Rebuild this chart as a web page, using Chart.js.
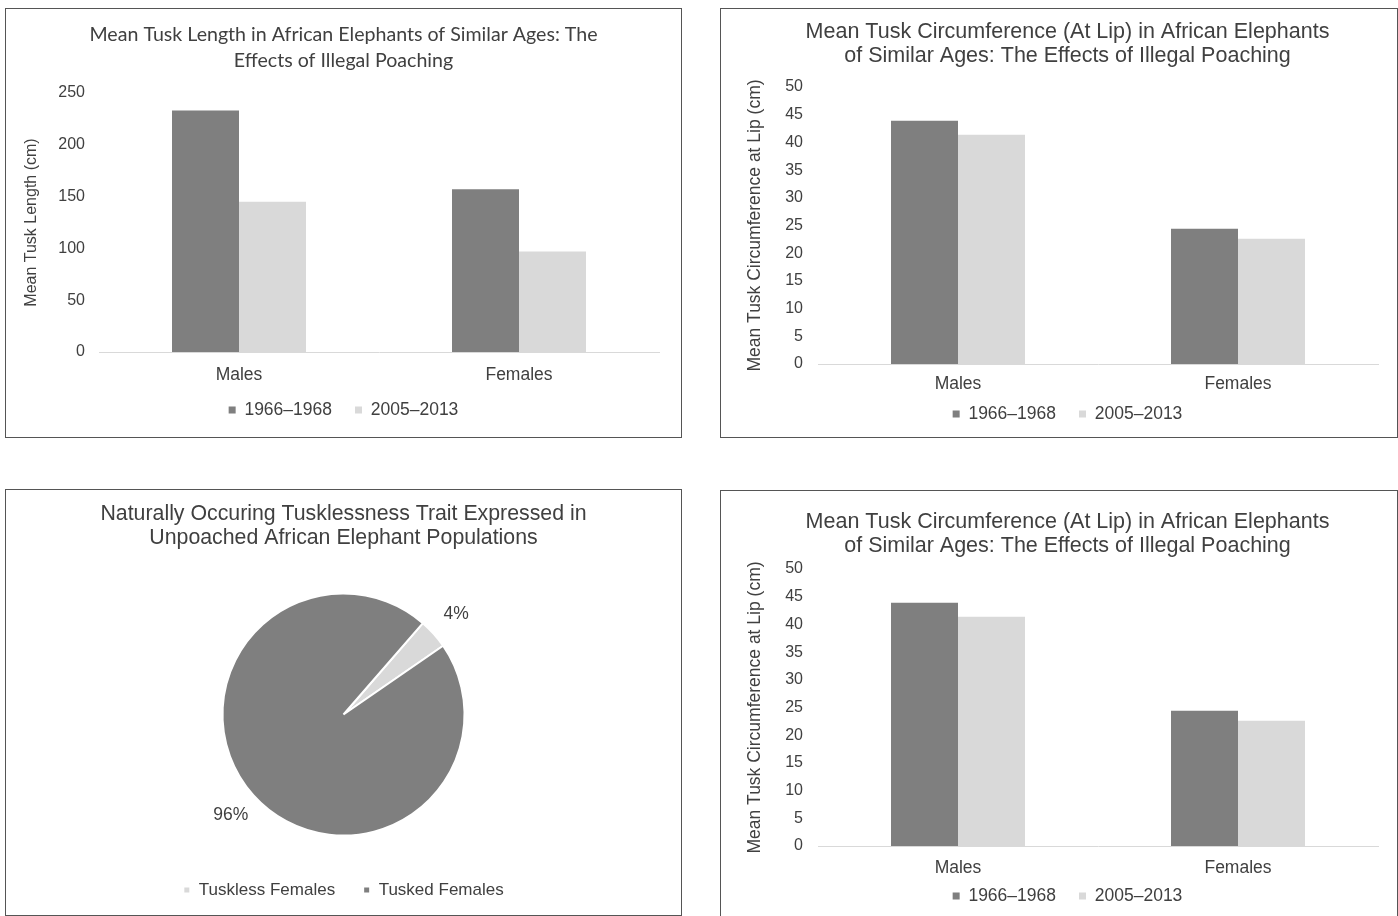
<!DOCTYPE html>
<html>
<head>
<meta charset="utf-8">
<title>African elephant tusk charts</title>
<script src="https://cdn.jsdelivr.net/npm/chart.js@4.4.1/dist/chart.umd.min.js"></script>
<style>
  html, body { margin: 0; padding: 0; background: #ffffff; overflow: hidden; width: 1398px; height: 916px; }
  .panel { position: absolute; border: 1px solid #555555; background: #ffffff; overflow: hidden; }
  .panel canvas { display: block; }
</style>
</head>
<body>
<div class="panel" style="left:5px; top:8px; width:675px; height:428px;">
  <canvas id="lengthChart" width="675" height="428" style="width:675px; height:428px;"></canvas>
</div>
<div class="panel" style="left:720px; top:8px; width:676px; height:428px;">
  <canvas id="circChartTop" width="676" height="428" style="width:676px; height:428px;"></canvas>
</div>
<div class="panel" style="left:5px; top:489px; width:675px; height:425px;">
  <canvas id="tuskPie" width="675" height="425" style="width:675px; height:425px;"></canvas>
</div>
<div class="panel" style="left:720px; top:490px; width:676px; height:428px;">
  <canvas id="circChartBottom" width="676" height="428" style="width:676px; height:428px;"></canvas>
</div>
<script>
// ---- data ----
const categories = ['Males', 'Females'];
const periods = ['1966–1968', '2005–2013'];

// mean tusk length (cm), per category
const lengthEarly = [233, 157];
const lengthLate = [145, 97];
const lengthTicks = [0, 50, 100, 150, 200, 250];

// mean tusk circumference at lip (cm), per category
const circEarly = [43.9, 24.4];
const circLate = [41.4, 22.6];
const circTicks = [0, 5, 10, 15, 20, 25, 30, 35, 40, 45, 50];

// tusklessness in unpoached populations (%)
const pieLabels = ['Tuskless Females', 'Tusked Females'];
const piePercents = [4, 96];

// ---- styling ----
const DARK = '#7f7f7f';
const LIGHT = '#d9d9d9';
const TEXT = '#404040';
const SANS = "'Liberation Sans', Arial, sans-serif";

Chart.defaults.font.family = SANS;
Chart.defaults.color = TEXT;

// invisible right-hand box that keeps the plot narrower than the centred title
function spacerAxis(width) {
  return {
    type: 'linear', axis: 'y', position: 'right',
    grid: { display: false, drawTicks: false },
    border: { display: false },
    ticks: { display: false },
    afterFit: s => { s.width = width; }
  };
}

// category names written under each group, positioned by the x scale
function categoryLabels(offset) {
  return {
    id: 'categoryLabels',
    afterDraw(chart) {
      const xs = chart.scales.x;
      const ctx = chart.ctx;
      ctx.save();
      ctx.font = '17.5px ' + SANS;
      ctx.fillStyle = TEXT;
      ctx.textAlign = 'center';
      ctx.textBaseline = 'middle';
      chart.data.labels.forEach((name, i) => {
        ctx.fillText(name, xs.getPixelForTick(i), chart.chartArea.bottom + offset);
      });
      ctx.restore();
    }
  };
}

function barChart(id, cfg) {
  const t = cfg.ticks;
  return new Chart(document.getElementById(id), {
    type: 'bar',
    data: {
      labels: categories,
      datasets: [
        { label: periods[0], data: cfg.early, backgroundColor: DARK,
          categoryPercentage: 134 / 280, barPercentage: 1 },
        { label: periods[1], data: cfg.late, backgroundColor: LIGHT,
          categoryPercentage: 134 / 280, barPercentage: 1 }
      ]
    },
    options: {
      responsive: false,
      animation: false,
      events: [],
      layout: { padding: { left: cfg.padLeft, right: 0, top: 0, bottom: cfg.padBottom } },
      plugins: {
        title: {
          display: true, text: cfg.title, color: TEXT,
          font: cfg.titleFont,
          padding: { top: cfg.titleTop, bottom: cfg.titleBottom }
        },
        legend: {
          position: 'bottom',
          labels: { boxWidth: 7, boxHeight: 7, padding: cfg.legendPad, color: TEXT,
                    font: { size: 17.5 } }
        },
        tooltip: { enabled: false }
      },
      scales: {
        x: {
          grid: { display: false, drawTicks: false },
          border: { display: true, color: '#d9d9d9', width: 1 },
          ticks: { display: false },
          afterFit: s => { s.height = cfg.xHeight; }
        },
        y: {
          min: t[0], max: t[t.length - 1],
          grid: { display: false, drawTicks: false },
          border: { display: false },
          ticks: { stepSize: t[1] - t[0], padding: cfg.yTickPad, color: TEXT, font: { size: 16 } },
          title: { display: true, text: cfg.yTitle, color: TEXT,
                   font: { size: cfg.yTitleSize },
                   padding: { top: cfg.yTitleTop, bottom: 0 } },
          afterFit: s => { s.width = cfg.yWidth; }
        },
        gap: spacerAxis(cfg.rightGap)
      }
    },
    plugins: [categoryLabels(cfg.labelOffset)]
  });
}

barChart('lengthChart', {
  early: lengthEarly, late: lengthLate, ticks: lengthTicks,
  title: ['Mean Tusk Length in African Elephants of Similar Ages: The', 'Effects of Illegal Poaching'],
  titleFont: { family: "Lato, 'Open Sans', sans-serif", size: 19.6, weight: 'normal', lineHeight: 26 / 19.6 },
  titleTop: 13, titleBottom: 19,
  yTitle: 'Mean Tusk Length (cm)', yTitleSize: 16, yTitleTop: 16,
  yWidth: 93, yTickPad: 14,
  labelOffset: 23, xHeight: 26.25,
  legendPad: 23, padLeft: 0, padBottom: 8.25, rightGap: 22
});

const circTitle = ['Mean Tusk Circumference (At Lip) in African Elephants',
                   'of Similar Ages: The Effects of Illegal Poaching'];
const circTitleFont = { size: 21.5, weight: 'normal', lineHeight: 24 / 21.5 };

barChart('circChartTop', {
  early: circEarly, late: circLate, ticks: circTicks,
  title: circTitle, titleFont: circTitleFont,
  titleTop: 11, titleBottom: 19,
  yTitle: 'Mean Tusk Circumference at Lip (cm)', yTitleSize: 17.5, yTitleTop: 6.5,
  yWidth: 80, yTickPad: 15,
  labelOffset: 20, xHeight: 18.25,
  legendPad: 23, padLeft: 17, padBottom: 4.25, rightGap: 19
});

barChart('circChartBottom', {
  early: circEarly, late: circLate, ticks: circTicks,
  title: circTitle, titleFont: circTitleFont,
  titleTop: 19, titleBottom: 11,
  yTitle: 'Mean Tusk Circumference at Lip (cm)', yTitleSize: 17.5, yTitleTop: 6.5,
  yWidth: 80, yTickPad: 15,
  labelOffset: 22, xHeight: 18.25,
  legendPad: 23, padLeft: 17, padBottom: 4.25, rightGap: 19
});

// percentage labels placed just outside each slice, on its middle angle
const sliceLabels = {
  id: 'sliceLabels',
  afterDatasetsDraw(chart) {
    const ctx = chart.ctx;
    const meta = chart.getDatasetMeta(0);
    const values = chart.data.datasets[0].data;
    ctx.save();
    ctx.font = '17.5px ' + SANS;
    ctx.fillStyle = TEXT;
    ctx.textAlign = 'center';
    ctx.textBaseline = 'middle';
    meta.data.forEach((arc, i) => {
      const p = arc.getProps(['x', 'y', 'startAngle', 'endAngle', 'outerRadius'], true);
      const mid = (p.startAngle + p.endAngle) / 2;
      const r = p.outerRadius * 1.25;
      ctx.fillText(values[i] + '%', p.x + Math.cos(mid) * r, p.y + Math.sin(mid) * r);
    });
    ctx.restore();
  }
};

new Chart(document.getElementById('tuskPie'), {
  type: 'pie',
  data: {
    labels: pieLabels,
    datasets: [{
      data: piePercents,
      backgroundColor: [LIGHT, DARK],
      borderColor: '#ffffff',
      borderWidth: 2
    }]
  },
  options: {
    responsive: false,
    animation: false,
    events: [],
    radius: 121,
    rotation: 41,
    layout: { padding: { left: 0, right: 0, top: 0, bottom: 6.5 } },
    plugins: {
      title: {
        display: true,
        text: ['Naturally Occuring Tusklessness Trait Expressed in', 'Unpoached African Elephant Populations'],
        color: TEXT,
        font: { size: 21.3, weight: 'normal', lineHeight: 24 / 21.3 },
        padding: { top: 12, bottom: 25.5 }
      },
      legend: {
        position: 'bottom',
        labels: { boxWidth: 7, boxHeight: 7, padding: 28, color: TEXT, font: { size: 17 } }
      },
      tooltip: { enabled: false }
    }
  },
  plugins: [sliceLabels]
});
</script>
</body>
</html>
